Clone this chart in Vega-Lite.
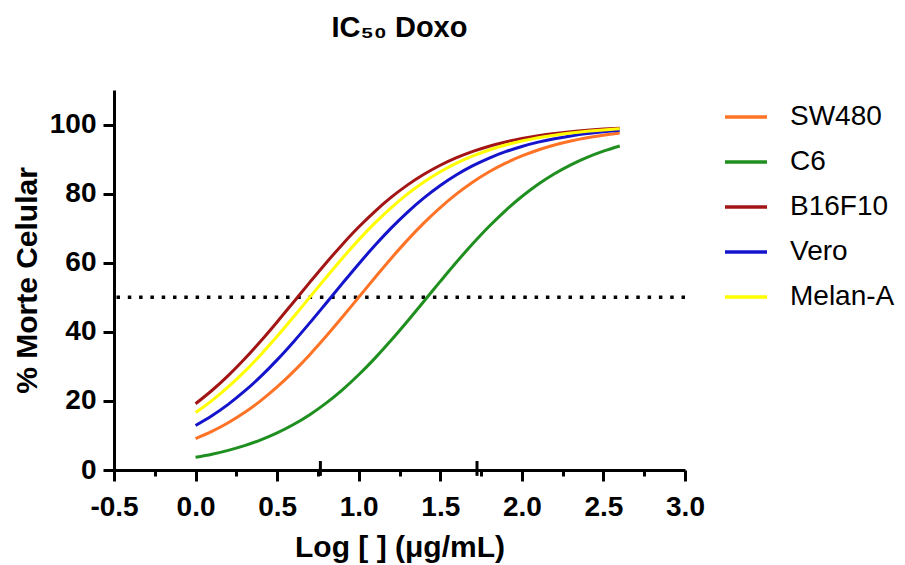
{
  "$schema": "https://vega.github.io/schema/vega-lite/v6.json",
  "width": 571,
  "height": 380,
  "autosize": {"type": "none"},
  "padding": {"left": 114, "top": 90, "right": 220, "bottom": 95},
  "background": "white",
  "config": {"view": {"stroke": null}, "font": "Liberation Sans"},
  "title": {"text": "IC₅₀ Doxo", "font": "Liberation Sans", "fontSize": 29, "fontWeight": "bold", "color": "black", "anchor": "middle", "baseline": "alphabetic", "offset": 24},
  "data": {"values": [
    {"s":"SW480","x":0,"y":9.09},{"s":"SW480","x":0.1,"y":11.18},{"s":"SW480","x":0.2,"y":13.68},{"s":"SW480","x":0.3,"y":16.63},{"s":"SW480","x":0.4,"y":20.08},{"s":"SW480","x":0.5,"y":24.03},{"s":"SW480","x":0.6,"y":28.47},{"s":"SW480","x":0.7,"y":33.39},{"s":"SW480","x":0.8,"y":38.69},{"s":"SW480","x":0.9,"y":44.27},{"s":"SW480","x":1.0,"y":50},{"s":"SW480","x":1.1,"y":55.73},{"s":"SW480","x":1.2,"y":61.31},{"s":"SW480","x":1.3,"y":66.61},{"s":"SW480","x":1.4,"y":71.53},{"s":"SW480","x":1.5,"y":75.97},{"s":"SW480","x":1.6,"y":79.92},{"s":"SW480","x":1.7,"y":83.37},{"s":"SW480","x":1.8,"y":86.32},{"s":"SW480","x":1.9,"y":88.82},{"s":"SW480","x":2.0,"y":90.91},{"s":"SW480","x":2.1,"y":92.64},{"s":"SW480","x":2.2,"y":94.07},{"s":"SW480","x":2.3,"y":95.23},{"s":"SW480","x":2.4,"y":96.17},{"s":"SW480","x":2.5,"y":96.93},{"s":"SW480","x":2.6,"y":97.55},
    {"s":"C6","x":0,"y":3.67},{"s":"C6","x":0.1,"y":4.57},{"s":"C6","x":0.2,"y":5.69},{"s":"C6","x":0.3,"y":7.06},{"s":"C6","x":0.4,"y":8.73},{"s":"C6","x":0.5,"y":10.74},{"s":"C6","x":0.6,"y":13.16},{"s":"C6","x":0.7,"y":16.02},{"s":"C6","x":0.8,"y":19.36},{"s":"C6","x":0.9,"y":23.21},{"s":"C6","x":1.0,"y":27.56},{"s":"C6","x":1.1,"y":32.39},{"s":"C6","x":1.2,"y":37.61},{"s":"C6","x":1.3,"y":43.14},{"s":"C6","x":1.4,"y":48.85},{"s":"C6","x":1.5,"y":54.59},{"s":"C6","x":1.6,"y":60.21},{"s":"C6","x":1.7,"y":65.57},{"s":"C6","x":1.8,"y":70.57},{"s":"C6","x":1.9,"y":75.11},{"s":"C6","x":2.0,"y":79.16},{"s":"C6","x":2.1,"y":82.71},{"s":"C6","x":2.2,"y":85.75},{"s":"C6","x":2.3,"y":88.34},{"s":"C6","x":2.4,"y":90.51},{"s":"C6","x":2.5,"y":92.31},{"s":"C6","x":2.6,"y":93.80},
    {"s":"B16F10","x":0,"y":19.19},{"s":"B16F10","x":0.1,"y":23.01},{"s":"B16F10","x":0.2,"y":27.33},{"s":"B16F10","x":0.3,"y":32.14},{"s":"B16F10","x":0.4,"y":37.34},{"s":"B16F10","x":0.5,"y":42.86},{"s":"B16F10","x":0.6,"y":48.57},{"s":"B16F10","x":0.7,"y":54.30},{"s":"B16F10","x":0.8,"y":59.93},{"s":"B16F10","x":0.9,"y":65.31},{"s":"B16F10","x":1.0,"y":70.33},{"s":"B16F10","x":1.1,"y":74.89},{"s":"B16F10","x":1.2,"y":78.97},{"s":"B16F10","x":1.3,"y":82.54},{"s":"B16F10","x":1.4,"y":85.61},{"s":"B16F10","x":1.5,"y":88.22},{"s":"B16F10","x":1.6,"y":90.41},{"s":"B16F10","x":1.7,"y":92.23},{"s":"B16F10","x":1.8,"y":93.73},{"s":"B16F10","x":1.9,"y":94.96},{"s":"B16F10","x":2.0,"y":95.95},{"s":"B16F10","x":2.1,"y":96.75},{"s":"B16F10","x":2.2,"y":97.41},{"s":"B16F10","x":2.3,"y":97.93},{"s":"B16F10","x":2.4,"y":98.35},{"s":"B16F10","x":2.5,"y":98.69},{"s":"B16F10","x":2.6,"y":98.95},
    {"s":"Vero","x":0,"y":12.90},{"s":"Vero","x":0.1,"y":15.71},{"s":"Vero","x":0.2,"y":19.01},{"s":"Vero","x":0.3,"y":22.81},{"s":"Vero","x":0.4,"y":27.10},{"s":"Vero","x":0.5,"y":31.88},{"s":"Vero","x":0.6,"y":37.07},{"s":"Vero","x":0.7,"y":42.58},{"s":"Vero","x":0.8,"y":48.28},{"s":"Vero","x":0.9,"y":54.01},{"s":"Vero","x":1.0,"y":59.65},{"s":"Vero","x":1.1,"y":65.05},{"s":"Vero","x":1.2,"y":70.08},{"s":"Vero","x":1.3,"y":74.67},{"s":"Vero","x":1.4,"y":78.77},{"s":"Vero","x":1.5,"y":82.37},{"s":"Vero","x":1.6,"y":85.47},{"s":"Vero","x":1.7,"y":88.10},{"s":"Vero","x":1.8,"y":90.31},{"s":"Vero","x":1.9,"y":92.15},{"s":"Vero","x":2.0,"y":93.66},{"s":"Vero","x":2.1,"y":94.90},{"s":"Vero","x":2.2,"y":95.90},{"s":"Vero","x":2.3,"y":96.71},{"s":"Vero","x":2.4,"y":97.38},{"s":"Vero","x":2.5,"y":97.90},{"s":"Vero","x":2.6,"y":98.33},
    {"s":"Melan-A","x":0,"y":16.63},{"s":"Melan-A","x":0.1,"y":20.08},{"s":"Melan-A","x":0.2,"y":24.03},{"s":"Melan-A","x":0.3,"y":28.47},{"s":"Melan-A","x":0.4,"y":33.39},{"s":"Melan-A","x":0.5,"y":38.69},{"s":"Melan-A","x":0.6,"y":44.27},{"s":"Melan-A","x":0.7,"y":50},{"s":"Melan-A","x":0.8,"y":55.73},{"s":"Melan-A","x":0.9,"y":61.31},{"s":"Melan-A","x":1.0,"y":66.61},{"s":"Melan-A","x":1.1,"y":71.53},{"s":"Melan-A","x":1.2,"y":75.97},{"s":"Melan-A","x":1.3,"y":79.92},{"s":"Melan-A","x":1.4,"y":83.37},{"s":"Melan-A","x":1.5,"y":86.32},{"s":"Melan-A","x":1.6,"y":88.82},{"s":"Melan-A","x":1.7,"y":90.91},{"s":"Melan-A","x":1.8,"y":92.64},{"s":"Melan-A","x":1.9,"y":94.07},{"s":"Melan-A","x":2.0,"y":95.23},{"s":"Melan-A","x":2.1,"y":96.17},{"s":"Melan-A","x":2.2,"y":96.93},{"s":"Melan-A","x":2.3,"y":97.55},{"s":"Melan-A","x":2.4,"y":98.04},{"s":"Melan-A","x":2.5,"y":98.44},{"s":"Melan-A","x":2.6,"y":98.76}
  ]},
  "layer": [
    {
      "data": {"values": [{"level": 50}]},
      "mark": {"type": "rule", "color": "black", "strokeWidth": 3.5, "strokeDash": [3.5, 7.8]},
      "encoding": {"y": {"field": "level", "type": "quantitative"}}
    },
    {
      "data": {"values": [{"pos": 0.765}, {"pos": 1.725}]},
      "mark": {"type": "rule", "color": "black", "strokeWidth": 3, "clip": false},
      "encoding": {
        "x": {"field": "pos", "type": "quantitative"},
        "y": {"datum": -1.7},
        "y2": {"datum": 2.6}
      }
    },
    {
      "mark": {"type": "line", "strokeWidth": 3, "interpolate": "monotone"},
      "encoding": {
        "x": {
          "field": "x", "type": "quantitative",
          "scale": {"domain": [-0.5, 3], "nice": false, "zero": false},
          "axis": {
            "values": [-0.5, -0.25, 0, 0.25, 0.5, 0.75, 1, 1.25, 1.5, 1.75, 2, 2.25, 2.5, 2.75, 3],
            "labelExpr": "abs(datum.value*2 - round(datum.value*2)) < 0.01 ? replace(format(datum.value, '.1f'), '\u2212', '-') : ''",
            "tickSize": {"condition": {"test": "abs(datum.value*2 - round(datum.value*2)) < 0.01", "value": 11}, "value": 6},
            "tickWidth": 3, "tickColor": "black",
            "domainWidth": 3, "domainColor": "black",
            "grid": false,
            "labelFont": "Liberation Sans", "labelFontSize": 28, "labelFontWeight": "bold", "labelColor": "black",
            "labelPadding": 12, "labelOverlap": false, "labelBound": false, "labelFlush": false,
            "title": "Log [ ] (μg/mL)",
            "titleFont": "Liberation Sans", "titleFontSize": 30, "titleFontWeight": "bold", "titleColor": "black",
            "titlePadding": 11
          }
        },
        "y": {
          "field": "y", "type": "quantitative",
          "scale": {"domain": [0, 110], "nice": false},
          "axis": {
            "values": [0, 10, 20, 30, 40, 50, 60, 70, 80, 90, 100, 110],
            "labelExpr": "datum.value % 20 == 0 ? datum.label : ''",
            "tickSize": {"condition": {"test": "datum.value % 20 == 0", "value": 11}, "value": 6},
            "tickWidth": 3, "tickColor": "black",
            "domainWidth": 3, "domainColor": "black",
            "grid": false,
            "labelFont": "Liberation Sans", "labelFontSize": 28, "labelFontWeight": "bold", "labelColor": "black",
            "labelPadding": 7, "labelOverlap": false, "labelBound": false, "labelFlush": false,
            "title": "% Morte Celular",
            "titleFont": "Liberation Sans", "titleFontSize": 30, "titleFontWeight": "bold", "titleColor": "black",
            "titlePadding": 7
          }
        },
        "color": {
          "field": "s", "type": "nominal",
          "scale": {"domain": ["SW480", "C6", "B16F10", "Vero", "Melan-A"], "range": ["#FF7326", "#1F8F1F", "#A31515", "#1414CC", "#FFFF00"]},
          "legend": {
            "title": null, "orient": "none", "legendX": 609, "legendY": 4, "padding": 0,
            "symbolType": "stroke", "symbolSize": 1764, "symbolStrokeWidth": 3.5,
            "labelFont": "Liberation Sans", "labelFontSize": 28, "labelColor": "black", "labelOffset": 21,
            "rowPadding": 8
          }
        }
      }
    }
  ]
}
